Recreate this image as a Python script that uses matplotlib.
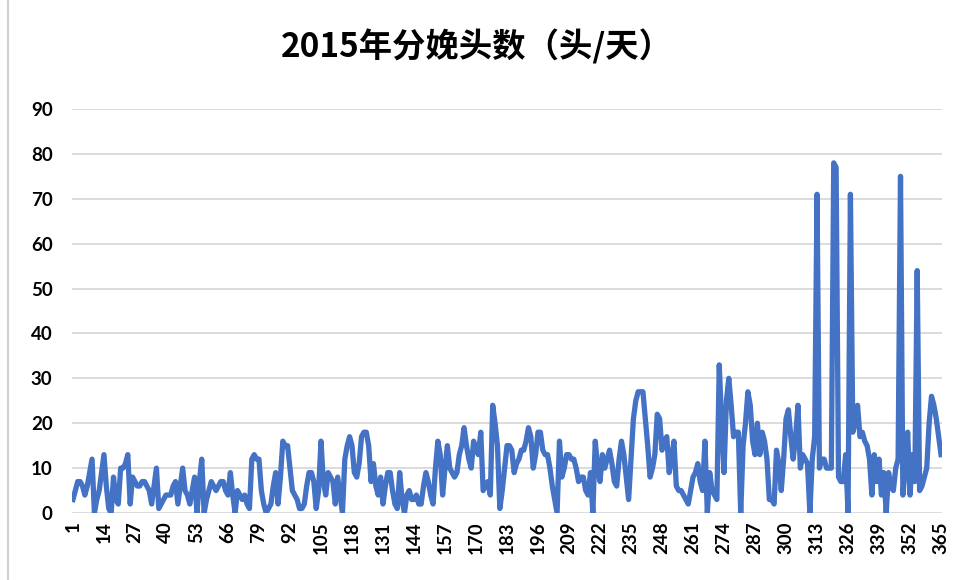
import matplotlib
matplotlib.use("Agg")
import matplotlib.pyplot as plt
from matplotlib.lines import Line2D

# daily births, day 1 .. 365
births = [
    3, 5, 7, 7, 6, 4, 6, 9, 12, 0, 3, 5, 9, 13, 6, 1, 0, 8, 3, 2,
    10, 10, 11, 13, 2, 8, 7, 6, 6, 7, 7, 6, 5, 2, 6, 10, 1, 2, 3, 4,
    4, 4, 6, 7, 2, 6, 10, 5, 4, 2, 5, 8, 0, 7, 12, 0, 3, 5, 7, 6,
    5, 6, 7, 7, 5, 4, 9, 4, 0, 5, 4, 3, 4, 2, 1, 12, 13, 12, 12, 5,
    2, 0, 1, 2, 6, 9, 2, 8, 16, 15, 15, 10, 5, 4, 3, 1, 1, 2, 6, 9,
    9, 7, 1, 5, 16, 7, 4, 9, 8, 7, 2, 8, 4, 0, 12, 15, 17, 15, 9, 8,
    11, 17, 18, 18, 15, 7, 11, 6, 4, 8, 2, 6, 9, 9, 5, 2, 1, 9, 3, 0,
    4, 5, 3, 3, 4, 2, 2, 6, 9, 7, 4, 2, 10, 16, 13, 4, 10, 15, 10, 9,
    8, 9, 13, 15, 19, 15, 12, 10, 16, 14, 13, 18, 5, 6, 7, 4, 24, 20, 15, 1,
    5, 10, 15, 15, 14, 9, 11, 12, 14, 14, 16, 19, 17, 10, 13, 18, 18, 14, 13, 13,
    10, 6, 3, 0, 16, 8, 10, 13, 13, 12, 12, 10, 7, 8, 8, 5, 4, 9, 0, 16,
    10, 7, 13, 10, 12, 14, 11, 7, 6, 12, 16, 13, 8, 3, 12, 21, 25, 27, 27, 27,
    21, 15, 8, 10, 13, 22, 21, 14, 16, 17, 9, 12, 16, 6, 5, 5, 4, 3, 2, 5,
    8, 9, 11, 7, 5, 16, 0, 9, 5, 4, 3, 33, 20, 9, 25, 30, 24, 17, 18, 18,
    0, 15, 20, 27, 24, 16, 13, 20, 13, 18, 16, 12, 3, 3, 2, 14, 11, 5, 12, 21,
    23, 17, 12, 17, 24, 10, 13, 12, 11, 0, 12, 17, 71, 10, 12, 12, 10, 10, 10, 78,
    77, 8, 7, 7, 13, 0, 71, 18, 20, 24, 17, 18, 16, 15, 12, 4, 13, 7, 12, 4,
    9, 0, 9, 6, 5, 10, 12, 75, 4, 10, 18, 4, 13, 7, 54, 5, 6, 8, 10, 20,
    26, 24, 21, 17, 13,
]
days = list(range(1, len(births) + 1))
tick_days = list(range(1, 366, 13))
y_ticks = list(range(0, 91, 10))

plt.rcParams['font.family'] = ['Lato', 'DejaVu Sans']

fig = plt.figure(figsize=(9.59, 5.80), dpi=100)
ax = fig.add_axes([72 / 959, 1 - 513 / 580, 870 / 959, 404 / 580])

ax.plot(days, births, color='#4472C4', lw=3.8, solid_joinstyle='round')

ax.set_xlim(0.6, 365.4)
ax.set_ylim(0, 90)
ax.set_yticks(y_ticks)
ax.set_xticks(tick_days)
ax.set_xticklabels([str(d) for d in tick_days], rotation=90, fontsize=13.5,
                   fontweight='bold')
ax.set_yticklabels([str(v) for v in y_ticks], fontsize=13.5, fontweight='bold')
ax.tick_params(length=0)
ax.tick_params(axis='y', pad=14)
ax.tick_params(axis='x', pad=6)
ax.grid(axis='y', color='#D9D9D9', lw=1.3)
ax.set_axisbelow(True)
for s in ax.spines.values():
    s.set_visible(False)

fig.text(0.497, 1 - 47 / 580, '2015年分娩头数（头/天）', ha='center', va='center',
         fontsize=24, fontweight='bold',
         family=['Noto Sans CJK SC', 'DejaVu Sans'])

# chart frame edge on the left
fig.add_artist(Line2D([8 / 959, 8 / 959], [0, 1], transform=fig.transFigure,
                      color='#D0D0D0', lw=1.5))

fig.savefig('out.png', dpi=100)
